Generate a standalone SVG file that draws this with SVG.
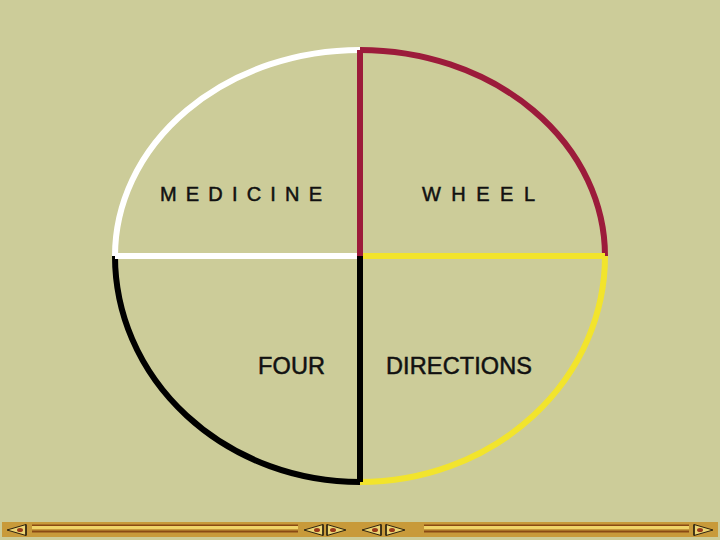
<svg xmlns="http://www.w3.org/2000/svg" width="720" height="540" viewBox="0 0 720 540">
<style>
.arc{fill:none;stroke-width:6;stroke-linecap:butt}
.lbl{font-family:"Liberation Sans",Arial,sans-serif;fill:#111;stroke:#111;stroke-width:0.5}
.btn{fill:#ecd472;stroke:#2e2410;stroke-width:1}
.dot{fill:#9a3a1a}
</style>
<defs>
<g id="btnL">
<polygon class="btn" points="0,6 19,0.5 19,11.5"/>
<line x1="19" y1="0.5" x2="19" y2="11.5" stroke="#2e2410" stroke-width="1.5"/>
<ellipse class="dot" cx="13" cy="6" rx="3" ry="2"/>
</g>
</defs>
<rect width="720" height="540" fill="#cccc99"/>
<g id="connectors">
<path id="arc-nw" class="arc" stroke="#ffffff" d="M115,256 A245,206 0 0 1 360,50"/>
<path id="arc-ne" class="arc" stroke="#9c1b3b" d="M360,50 A245,206 0 0 1 605,256"/>
<path id="arc-se" class="arc" stroke="#f2e42c" d="M605,256 A245,226 0 0 1 360,482"/>
<path id="arc-sw" class="arc" stroke="#000000" d="M360,482 A245,226 0 0 1 115,256"/>
<line id="line-w" x1="115" y1="256" x2="360" y2="256" stroke="#ffffff" stroke-width="6"/>
<line id="line-e" x1="360" y1="256" x2="605" y2="256" stroke="#f2e42c" stroke-width="6"/>
<line id="line-n" x1="360" y1="50" x2="360" y2="256" stroke="#9c1b3b" stroke-width="6"/>
<line id="line-s" x1="360" y1="256" x2="360" y2="482" stroke="#000000" stroke-width="6"/>
</g>
<g id="label-medicine"><text class="lbl" x="160" y="201" font-size="20" textLength="162" lengthAdjust="spacing">M E D I C I N E</text></g>
<g id="label-wheel"><text class="lbl" x="422" y="201" font-size="20" textLength="113" lengthAdjust="spacing">W H E E L</text></g>
<g id="label-four"><text class="lbl" x="325" y="374" font-size="23.5" text-anchor="end" textLength="67" lengthAdjust="spacing">FOUR</text></g>
<g id="label-directions"><text class="lbl" x="386" y="374" font-size="23.5" textLength="146" lengthAdjust="spacing">DIRECTIONS</text></g>
<g id="navbar">
<rect x="2" y="522" width="716" height="15" fill="#c89a3a"/>
<g id="stripes-left">
<rect x="32" y="524.5" width="266" height="1.5" fill="#8a4a14"/>
<rect x="32" y="526" width="266" height="3" fill="#f0d468"/>
<rect x="32" y="530.5" width="266" height="2" fill="#8a4a14"/>
</g>
<g id="stripes-right">
<rect x="424" y="524.5" width="265" height="1.5" fill="#8a4a14"/>
<rect x="424" y="526" width="265" height="3" fill="#f0d468"/>
<rect x="424" y="530.5" width="265" height="2" fill="#8a4a14"/>
</g>
<use href="#btnL" x="7" y="524"/>
<use href="#btnL" x="304" y="524"/>
<use href="#btnL" transform="translate(346,524) scale(-1,1)"/>
<use href="#btnL" x="362" y="524"/>
<use href="#btnL" transform="translate(405,524) scale(-1,1)"/>
<use href="#btnL" transform="translate(713,524) scale(-1,1)"/>
</g>
</svg>
